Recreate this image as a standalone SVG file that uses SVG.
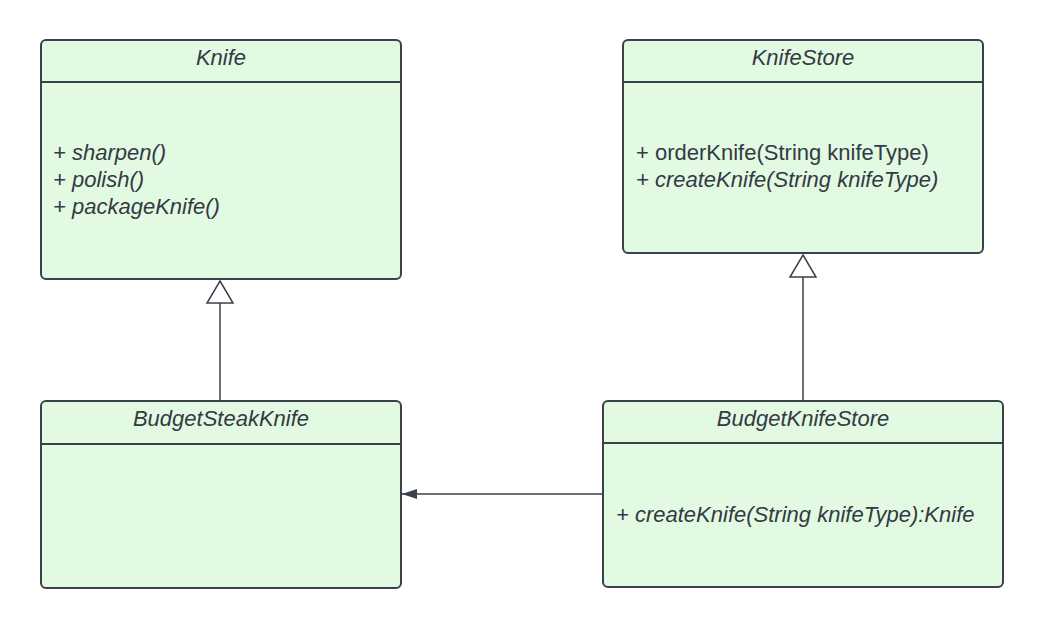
<svg xmlns="http://www.w3.org/2000/svg" width="1043" height="628" viewBox="0 0 1043 628">
<style>
.box{fill:#e2f9e2;stroke:#3a414a;stroke-width:2}
.div{stroke:#3a414a;stroke-width:2}
.t{font-family:"Liberation Sans",Arial,sans-serif;font-size:22px;fill:#333a44}
.i{font-style:italic}
.c{text-anchor:middle}
.ln{stroke:#3a414a;stroke-width:1.5;fill:none}
.tri{fill:#ffffff;stroke:#3a414a;stroke-width:1.5}
</style>
<defs>
<marker id="arr" markerWidth="16" markerHeight="12" refX="15" refY="6" orient="auto" markerUnits="userSpaceOnUse">
<path d="M0,1 L15,6 L0,11 Z" fill="#3a414a"/>
</marker>
</defs>
<rect width="1043" height="628" fill="#ffffff"/>
<g id="connectors">
<line class="ln" x1="220" y1="303" x2="220" y2="401"/>
<polygon class="tri" points="220,281 233,303 207,303"/>
<line class="ln" x1="803" y1="277" x2="803" y2="401"/>
<polygon class="tri" points="803,255 816,277 790,277"/>
<line class="ln" x1="603" y1="494" x2="402" y2="494" marker-end="url(#arr)"/>
</g>
<g id="Knife">
<rect class="box" x="41" y="40" width="360" height="239" rx="5"/>
<line class="div" x1="41" y1="82" x2="401" y2="82"/>
<text class="t i c" x="221" y="65">Knife</text>
<text class="t i" x="53" y="160">+ sharpen()</text>
<text class="t i" x="53" y="187">+ polish()</text>
<text class="t i" x="53" y="214">+ packageKnife()</text>
</g>
<g id="KnifeStore">
<rect class="box" x="623" y="40" width="360" height="213" rx="5"/>
<line class="div" x1="623" y1="82" x2="983" y2="82"/>
<text class="t i c" x="803" y="65">KnifeStore</text>
<text class="t" x="636" y="160">+ orderKnife(String knifeType)</text>
<text class="t i" x="636" y="187">+ createKnife(String knifeType)</text>
</g>
<g id="BudgetSteakKnife">
<rect class="box" x="41" y="401" width="360" height="187" rx="5"/>
<line class="div" x1="41" y1="444" x2="401" y2="444"/>
<text class="t i c" x="221" y="426">BudgetSteakKnife</text>
</g>
<g id="BudgetKnifeStore">
<rect class="box" x="603" y="401" width="400" height="186" rx="5"/>
<line class="div" x1="603" y1="443" x2="1003" y2="443"/>
<text class="t i c" x="803" y="426">BudgetKnifeStore</text>
<text class="t i" x="616" y="522">+ createKnife(String knifeType):Knife</text>
</g>
</svg>
